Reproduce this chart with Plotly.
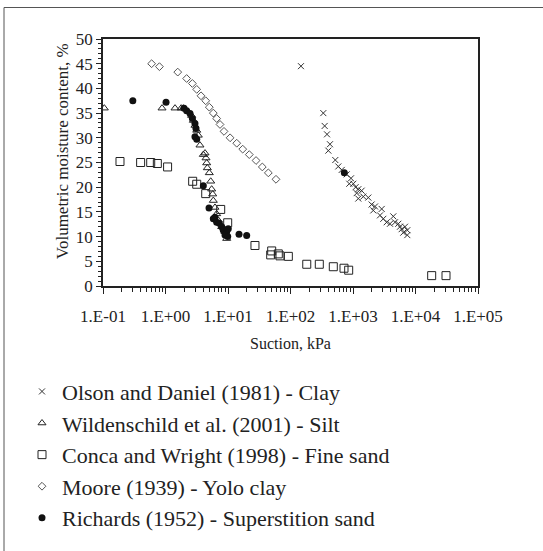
import plotly.graph_objects as go

# ---------------- data ----------------
olson_x = [147, 335, 352, 384, 403, 428, 521, 582, 793, 929, 873, 1012, 1216, 1145, 1376,
           1462, 1758, 1216, 1986, 2249, 2113, 2877, 2704, 3055, 3459, 3908, 4416, 4698,
           5309, 5649, 6000, 6792, 7396, 6383, 7396, 660, 1100]
olson_y = [44.5, 35.0, 32.4, 30.7, 27.4, 28.7, 25.5, 24.2, 22.6, 21.8, 20.7, 20.7, 19.6, 18.8, 19.3,
           18.1, 17.9, 17.7, 16.5, 16.1, 15.3, 15.6, 14.3, 13.6, 12.9, 12.6, 14.1, 12.9,
           12.6, 12.0, 11.5, 12.0, 11.3, 10.8, 10.3, 23.5, 20.0]

wild_x = [0.105, 0.88, 1.42, 1.78, 1.93, 2.62, 2.79, 2.96, 3.16, 3.35, 3.56, 4.03, 4.29, 4.45,
          4.56, 4.67, 5.02, 5.29, 5.48, 5.69, 5.82, 6.19, 6.59, 7.0, 7.92, 8.95, 9.53]
wild_y = [36.0, 36.0, 36.0, 36.0, 36.0, 34.5, 33.5, 32.5, 31.5, 30.5, 28.5, 26.6, 26.9, 25.9,
          24.9, 23.9, 22.9, 21.2, 19.6, 18.6, 17.3, 15.9, 14.6, 13.3, 12.0, 11.0, 9.6]

conca_x = [0.187, 0.40, 0.58, 0.74, 1.08, 2.72, 3.16, 4.40, 7.64, 9.89, 27.0, 48.2, 50.0,
           63.8, 67.9, 92.3, 182, 289, 484, 718, 853, 18150, 30760]
conca_y = [25.2, 25.0, 25.0, 24.8, 24.1, 21.2, 20.6, 18.7, 15.5, 12.8, 8.2, 6.3, 7.1,
           6.5, 6.1, 6.0, 4.4, 4.4, 3.9, 3.6, 3.2, 2.1, 2.1]

moore_x = [0.60, 0.80, 1.57, 2.18, 2.69, 3.16, 3.70, 4.40, 5.02, 5.82, 6.59, 7.45, 8.63,
           10.8, 13.8, 17.2, 21.9, 28.1, 35.4, 44.2, 58.6]
moore_y = [45.0, 44.4, 43.3, 42.0, 41.0, 39.8, 38.5, 37.5, 36.2, 35.0, 33.9, 32.7, 31.3,
           30.0, 28.9, 27.7, 26.6, 25.4, 24.1, 22.9, 21.6]

rich_x = [0.30, 1.02, 1.98, 2.18, 2.47, 2.69, 2.96, 3.07, 2.96, 3.16, 4.03, 4.97, 5.82,
          6.19, 6.59, 7.26, 7.92, 8.41, 9.53, 10.1, 8.95, 9.9, 15.0, 19.9, 726]
rich_y = [37.5, 37.2, 36.0, 35.5, 34.9, 33.9, 32.9, 31.9, 30.2, 29.7, 20.3, 15.8, 13.6,
          13.9, 12.9, 12.7, 12.0, 11.3, 11.0, 11.6, 10.3, 10.0, 10.5, 10.2, 22.9]

x_tick_vals = [0.1, 1, 10, 100, 1000, 10000, 100000]
x_tick_text = ["1.E-01", "1.E+00", "1.E+01", "1.E+02", "1.E+03", "1.E+04", "1.E+05"]

names = ["Olson and Daniel (1981) - Clay",
         "Wildenschild et al. (2001) - Silt",
         "Conca and Wright (1998) - Fine sand",
         "Moore (1939) - Yolo clay",
         "Richards (1952) - Superstition sand"]

# ---------------- figure ----------------
FONT = "Liberation Serif, Times New Roman, serif"
INK = "#222222"

fig = go.Figure()
fig.add_trace(go.Scatter(x=olson_x, y=olson_y, mode="markers", name=names[0],
                         marker=dict(symbol="x-thin-open", size=6, color="#333333",
                                     line=dict(width=1, color="#333333"))))
fig.add_trace(go.Scatter(x=wild_x, y=wild_y, mode="markers", name=names[1],
                         marker=dict(symbol="triangle-up-open", size=7, color="#222222",
                                     line=dict(width=1))))
fig.add_trace(go.Scatter(x=conca_x, y=conca_y, mode="markers", name=names[2],
                         marker=dict(symbol="square-open", size=8, color="#222222",
                                     line=dict(width=1))))
fig.add_trace(go.Scatter(x=moore_x, y=moore_y, mode="markers", name=names[3],
                         marker=dict(symbol="diamond-open", size=6, color="#555555",
                                     line=dict(width=1))))
fig.add_trace(go.Scatter(x=rich_x, y=rich_y, mode="markers", name=names[4],
                         marker=dict(symbol="circle", size=7, color="#111111")))

# minor tick positions (2..9 within each decade)
minor_vals = []
for base in x_tick_vals[:-1]:
    for k in range(2, 10):
        minor_vals.append(base * k)

L, R, T, B = 103, 478, 39, 290
W, H = 543, 551
pw, ph = R - L, B - T

def px(xp):
    return (xp - L) / pw

def py(yp):
    return (B - yp) / ph

fig.update_layout(
    width=W, height=H,
    margin=dict(l=L, r=W - R, t=T, b=H - B, pad=0),
    paper_bgcolor="white", plot_bgcolor="white",
    font=dict(family=FONT, size=16, color=INK),
    showlegend=True,
    legend=dict(x=px(22), y=py(376), xanchor="left", yanchor="top",
                font=dict(family=FONT, size=22, color=INK),
                bgcolor="rgba(0,0,0,0)", borderwidth=0, itemwidth=30,
                tracegroupgap=0),
    xaxis=dict(type="log", range=[-1, 5], tickvals=x_tick_vals, ticktext=x_tick_text,
               ticks="outside", ticklen=6, tickwidth=1, tickcolor=INK,
               ticklabelstandoff=8,
               showline=True, linecolor=INK, linewidth=1.5, mirror=True,
               showgrid=False, zeroline=False,
               tickfont=dict(family=FONT, size=17, color=INK),
               minor=dict(tickmode="array", tickvals=minor_vals, ticks="outside",
                          ticklen=4, tickwidth=1, tickcolor=INK, showgrid=False)),
    yaxis=dict(range=[0, 50], dtick=5, tick0=0,
               ticks="outside", ticklen=5, tickwidth=1, tickcolor=INK,
               showline=True, linecolor=INK, linewidth=1.5, mirror=True,
               showgrid=False, zeroline=False,
               tickfont=dict(family=FONT, size=17, color=INK),
               minor=dict(dtick=1, ticks="outside", ticklen=3, tickwidth=1,
                          tickcolor=INK, showgrid=False)),
    annotations=[
        dict(text="Suction, kPa", xref="paper", yref="paper", x=0.5, y=py(348),
             showarrow=False, xanchor="center", yanchor="middle",
             font=dict(family=FONT, size=16, color=INK)),
        dict(text="Volumetric moisture content, %", xref="paper", yref="paper",
             x=px(62), y=py(153), textangle=-90, showarrow=False,
             xanchor="center", yanchor="middle",
             font=dict(family=FONT, size=17, color=INK)),
    ],
    shapes=[
        dict(type="line", xref="paper", yref="paper", x0=px(4), x1=px(4),
             y0=py(7), y1=py(560), line=dict(color="#555555", width=1)),
        dict(type="line", xref="paper", yref="paper", x0=px(4), x1=px(560),
             y0=py(7), y1=py(7), line=dict(color="#555555", width=1)),
    ],
)

fig.write_html("out.html")
